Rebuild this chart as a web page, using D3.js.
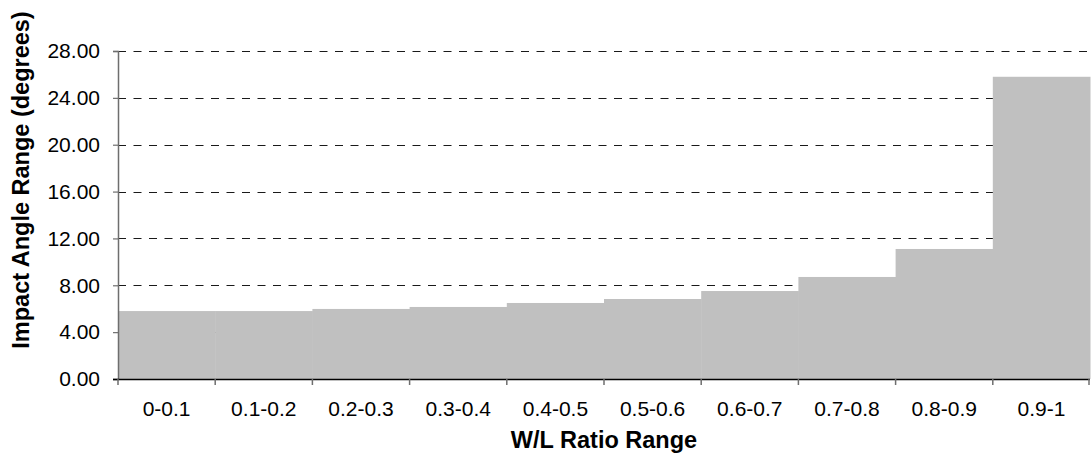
<!DOCTYPE html>
<html>
<head>
<meta charset="utf-8">
<script src="https://cdn.jsdelivr.net/npm/d3@7"></script>
<style>
  body { margin: 0; background: #fff; }
  svg { display: block; }
</style>
</head>
<body>
<div id="chart"></div>
<script>
const categories = ["0-0.1", "0.1-0.2", "0.2-0.3", "0.3-0.4", "0.4-0.5",
                    "0.5-0.6", "0.6-0.7", "0.7-0.8", "0.8-0.9", "0.9-1"];
const impactAngle = [5.8, 5.8, 5.98, 6.15, 6.49, 6.83, 7.51, 8.71, 11.1, 25.8];
const yTicks = [0, 4, 8, 12, 16, 20, 24, 28];

function drawChart() {
    const margin = {top: 51, right: 1, bottom: 87, left: 118},
        width = 1091 - margin.left - margin.right,
        height = 466 - margin.top - margin.bottom;

    const svg = d3.select("#chart")
        .append("svg")
            .attr("width", 1091)
            .attr("height", 466);

    const g = svg.append("g")
        .attr("transform", "translate(" + margin.left + "," + margin.top + ")");

    const x = d3.scaleBand()
        .domain(categories)
        .range([0, width])
        .padding(0);

    const y = d3.scaleLinear()
        .domain([0, 28])
        .range([height, 0]);

    // dashed gridlines, behind the bars
    g.selectAll(".grid")
        .data(yTicks.filter(d => d > 0))
        .join("line")
            .attr("class", "grid")
            .attr("x1", 0)
            .attr("x2", width)
            .attr("y1", d => Math.round(y(d)) + 0.5)
            .attr("y2", d => Math.round(y(d)) + 0.5)
            .attr("stroke", "#1a1a1a")
            .attr("stroke-width", 1)
            .attr("stroke-dasharray", "8,7.5");

    g.selectAll(".bar")
        .data(impactAngle)
        .join("rect")
            .attr("class", "bar")
            .attr("x", (d, i) => x(categories[i]))
            .attr("y", d => y(d))
            .attr("width", x.bandwidth() + 0.5)
            .attr("height", d => height - y(d))
            .attr("fill", "#c0c0c0");

    // y axis
    const yAxis = g.append("g")
        .call(d3.axisLeft(y)
            .tickValues(yTicks)
            .tickSize(5)
            .tickPadding(13)
            .tickFormat(d3.format(".2f")));
    yAxis.select(".domain").attr("stroke", "#6e6e6e").attr("stroke-width", 1.5);
    yAxis.selectAll(".tick line").attr("stroke", "#6e6e6e").attr("stroke-width", 1.2);
    yAxis.selectAll("text")
        .attr("font-family", "Liberation Sans, Arial, sans-serif")
        .attr("font-size", 21)
        .attr("fill", "#000");

    // x axis
    const xAxis = g.append("g")
        .attr("transform", "translate(0," + height + ")")
        .call(d3.axisBottom(x).tickSize(0).tickPadding(22));
    xAxis.select(".domain").remove();
    xAxis.selectAll("text")
        .attr("font-family", "Liberation Sans, Arial, sans-serif")
        .attr("font-size", 21)
        .attr("fill", "#000");

    g.append("line")
        .attr("x1", -5)
        .attr("x2", width)
        .attr("y1", height + 0.5)
        .attr("y2", height + 0.5)
        .attr("stroke", "#000")
        .attr("stroke-width", 1.5);

    const boundaries = categories.map(c => x(c)).concat([width]);
    g.selectAll(".xtick")
        .data(boundaries)
        .join("line")
            .attr("class", "xtick")
            .attr("x1", d => Math.min(d, width - 1))
            .attr("x2", d => Math.min(d, width - 1))
            .attr("y1", height)
            .attr("y2", height + 6)
            .attr("stroke", "#6e6e6e")
            .attr("stroke-width", 1.5);

    // axis titles
    svg.append("text")
        .attr("x", margin.left + width / 2)
        .attr("y", 448)
        .attr("text-anchor", "middle")
        .style("font-family", "Liberation Sans, Arial, sans-serif")
        .style("font-size", "23.5px")
        .style("font-weight", "bold")
        .text("W/L Ratio Range");

    svg.append("text")
        .attr("transform", "translate(29,180) rotate(-90)")
        .attr("text-anchor", "middle")
        .style("font-family", "Liberation Sans, Arial, sans-serif")
        .style("font-size", "23.5px")
        .style("font-weight", "bold")
        .text("Impact Angle Range (degrees)");
}

drawChart();
</script>
</body>
</html>
